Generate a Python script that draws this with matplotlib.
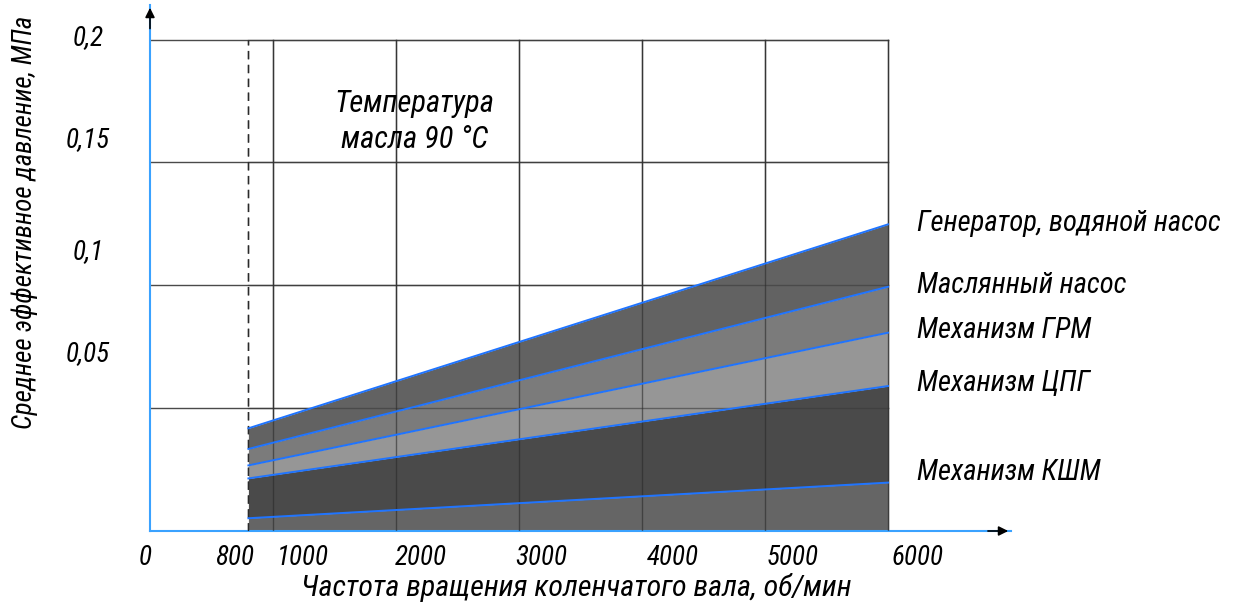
import matplotlib
matplotlib.use("Agg")
import matplotlib.pyplot as plt
from matplotlib import font_manager
from matplotlib.transforms import ScaledTranslation

# narrow italic face like the GOST drafting font, if one is installed
narrow = None
for fam in ["Liberation Sans Narrow", "DejaVu Sans Condensed", "Roboto Condensed",
            "Open Sans Condensed", "Noto Sans Condensed"]:
    try:
        font_manager.findfont(font_manager.FontProperties(family=fam),
                              fallback_to_default=False)
        narrow = fam
        break
    except ValueError:
        pass
families = ([narrow] if narrow else []) + ["DejaVu Sans"]
plt.rcParams["font.family"] = families
plt.rcParams["font.style"] = "italic"
scale = 1.0 if narrow else 0.8

# crankshaft speed, rpm (band starts at idle 800)
rpm = [800, 6000]
# cumulative mean effective pressure, MPa (bottom -> top)
p_kshm = [0.0052, 0.0197]
p_cpg = [0.0214, 0.0590]
p_grm = [0.0267, 0.0807]
p_oil = [0.0334, 0.0994]
p_gen = [0.0418, 0.1248]
names = ["Механизм КШМ", "Механизм ЦПГ", "Механизм ГРМ",
         "Маслянный насос", "Генератор, водяной насос"]
label_y = [0.0240, 0.0602, 0.0818, 0.1001, 0.1254]

xticks = [0, 800, 1000, 2000, 3000, 4000, 5000, 6000]
xtick_labels = ["0", "800", "1000", "2000", "3000", "4000", "5000", "6000"]
yticks = [0.05, 0.1, 0.15, 0.2]
ytick_labels = ["0,05", "0,1", "0,15", "0,2"]

band_colors = ["#656565", "#4a4a4a", "#969696", "#7b7b7b", "#626262"]
LINE = "#1f74ff"
SPINE = "#3aa2ff"
GRID = "#4a4a4a"

fig = plt.figure(figsize=(12.34, 6.03), dpi=100)
ax = fig.add_axes([150 / 1234, 72 / 603, 861 / 1234, 526 / 603])
ax.set_xlim(0, 861 / 0.123)
ax.set_ylim(0, 526 / 2457)

# grid (only inside 0..6000, 0..0.2)
for y in yticks:
    ax.plot([0, 6000], [y, y], color=GRID, lw=1.0, zorder=1)
for x in [1000, 2000, 3000, 4000, 5000, 6000]:
    ax.plot([x, x], [0, 0.2], color=GRID, lw=1.0, zorder=1)
ax.plot([800, 800], [0, 0.2], color=GRID, lw=1.0, ls=(0, (6, 4)), zorder=1)

# stacked bands
layers = [[0, 0], p_kshm, p_cpg, p_grm, p_oil, p_gen]
for i in range(5):
    ax.fill_between(rpm, layers[i], layers[i + 1], color=band_colors[i],
                    lw=0, zorder=2)
# grid stays visible over the bands
for y in yticks:
    ax.plot([800, 6000], [y, y], color="#3a3a3a", lw=1.0, alpha=0.6, zorder=3)
for x in [1000, 2000, 3000, 4000, 5000, 6000]:
    ax.plot([x, x], [0, 0.2], color="#2a2a2a", lw=1.0, alpha=0.6, zorder=3)
ax.plot([800, 800], [0, 0.2], color="#2a2a2a", lw=1.0, ls=(0, (6, 4)), zorder=3)

for series in layers[1:]:
    ax.plot(rpm, series, color=LINE, lw=1.4, zorder=4)

for name, y in zip(names, label_y):
    ax.text(6236, y, name, fontsize=20.6 * scale, ha="left", va="center", clip_on=False)

ax.text(2150, 0.1668, "Температура\nмасла 90 °С", fontsize=22 * scale, ha="center",
        va="center", linespacing=1.3)

# spines / arrows
for s in ["top", "right"]:
    ax.spines[s].set_visible(False)
for s in ["left", "bottom"]:
    ax.spines[s].set_color(SPINE)
    ax.spines[s].set_linewidth(1.5)
ax.annotate("", xy=(0, 1.0), xytext=(0, 0.95), xycoords="axes fraction",
            arrowprops=dict(arrowstyle="-|>", color="black", lw=1.2,
                            mutation_scale=14))
ax.annotate("", xy=(1.0, 0), xytext=(0.97, 0), xycoords="axes fraction",
            arrowprops=dict(arrowstyle="-|>", color="black", lw=1.2,
                            mutation_scale=14))

# ticks: labels sit offset from the grid lines, as in the drawing
ax.set_xticks(xticks, xtick_labels)
ax.set_yticks(yticks, ytick_labels)
ax.tick_params(length=0, pad=0, labelsize=19.5 * scale)
x_dx = [-5, -14, 30, 25, 22, 31, 28, 30]
for lab, dx in zip(ax.get_xticklabels(), x_dx):
    lab.set_verticalalignment("center")
    lab.set_transform(lab.get_transform() + ScaledTranslation(dx / 100, -27 / 100, fig.dpi_scale_trans))
y_dy = [57, 36, 25, 5]
for lab, dy in zip(ax.get_yticklabels(), y_dy):
    lab.set_horizontalalignment("center")
    lab.set_transform(lab.get_transform() + ScaledTranslation(-62 / 100, dy / 100, fig.dpi_scale_trans))

fig.text(576 / 1234, 1 - 588 / 603, "Частота вращения коленчатого вала, об/мин",
         fontsize=21.6 * scale, ha="center", va="center")
fig.text(25 / 1234, 1 - 222 / 603, "Среднее эффективное давление, МПа",
         fontsize=20 * scale * 0.97, ha="center", va="center", rotation=90)

fig.savefig("out.png", dpi=100)
